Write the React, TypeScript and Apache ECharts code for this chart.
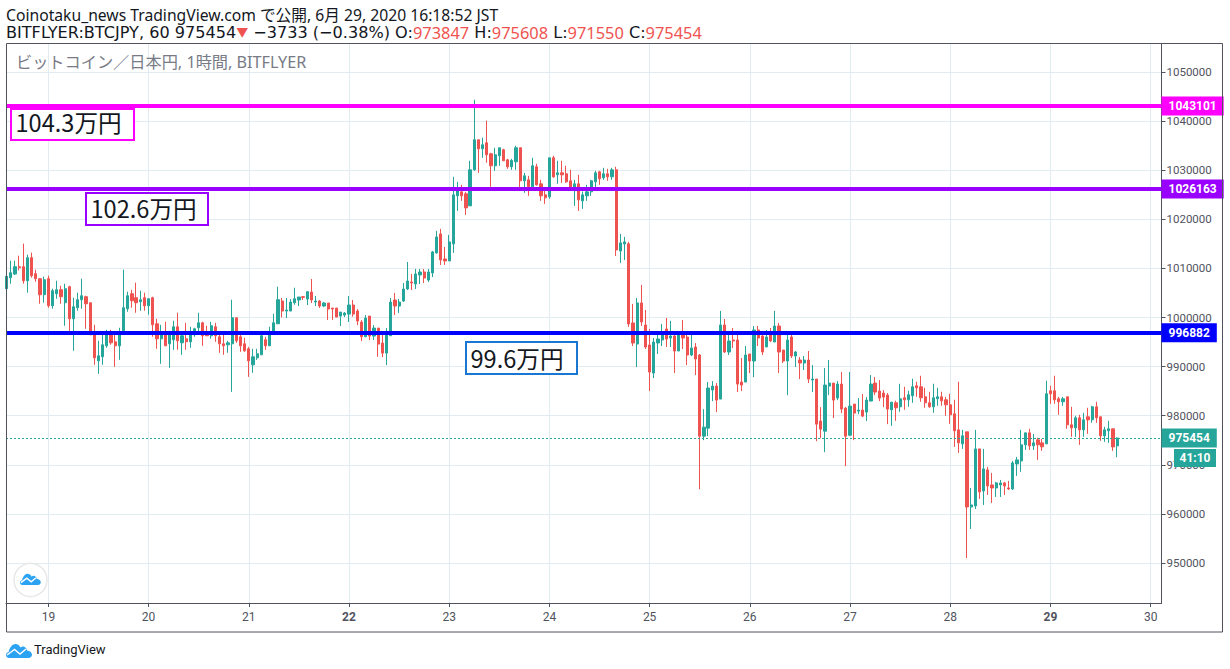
import React, { useEffect, useRef } from "react";
import * as echarts from "echarts";

// [open, close, low, high] per hour, JST, BITFLYER BTC/JPY
const day18 = [
  [1005864,1008380,1004640,1008720],[1008108,1009128,1006884,1011576],[1008856,1010352,1008652,1011576],[1010352,1010148,1009604,1012596],
  [1010352,1007496,1006884,1015044],[1007496,1012188,1005048,1012800],[1012188,1008516,1008108,1013208],[1008924,1007904,1007292,1009740],
  [1007904,1004640,1002804,1007904],[1004640,1007700,1003008,1008312],
];
const day19 = [
  [1007904,1002396,1001988,1008516],[1002396,1005456,1001784,1005864],[1004844,1005660,1003824,1007496],[1005660,1004232,1002804,1006476],
  [1003008,1005864,998316,1006884],[1006272,999744,997160,1006476],[999744,1002192,993216,1004028],[1002000,1003620,1001376,1005048],
  [1003620,1004436,1001784,1007904],[1004232,1002804,997704,1004436],[1003008,996480,996480,1003008],[996820,991788,990360,998520],
  [991176,992196,988524,995256],[992000,994440,990360,996480],[994236,996480,993828,997500],[996480,994848,994440,997500],
  [995052,994236,989952,996480],[994236,996480,991380,997908],[997296,1001988,997160,1009740],[1001784,1004436,1001172,1005252],
  [1004844,1003416,1001988,1005660],[1004028,1003008,1000968,1007088],[1003212,1003620,1001376,1005456],[1004028,1002396,1001376,1005048],
];
const day20 = [
  [1002396,1003824,1000560,1003824],[1004028,998520,996072,1004232],[998724,995664,993624,999744],[995664,996480,990564,998520],
  [996480,994236,994236,999132],[994644,996480,989748,997296],[995460,998112,993420,999336],[998112,995256,993420,1000968],
  [994848,996276,992400,997092],[995664,995052,993420,998928],[995052,997092,993828,998112],[996480,997704,996072,997908],
  [997908,998928,996888,1000968],[998928,996276,994236,999132],[996480,996276,996276,998316],[996276,998316,995664,999132],
  [998112,996276,995052,998928],[996072,994644,992808,997092],[994644,994236,992400,996480],[994440,994848,992808,995256],
  [994644,999948,984852,1003620],[999948,995256,994848,999948],[996072,994236,993012,996888],[994644,993216,993012,995868],
];
const day21 = [
  [993624,991176,987912,994032],[990360,992000,988728,993624],[991788,992604,991380,993624],[992400,996276,992400,996480],
  [995460,994236,993420,996072],[994236,996480,994236,998112],[997160,998928,996820,1000764],[998724,1003620,998724,1006272],
  [1003356,1001316,1000024,1003968],[1001316,1001520,999888,1003968],[1001316,1003152,1001316,1003764],[1003008,1003824,1002600,1006068],
  [1003560,1004172,1002336,1004172],[1004240,1004104,1003560,1004376],[1003764,1005260,1002540,1005396],[1005192,1003560,1002948,1007844],
  [1003152,1003356,1002336,1004376],[1003356,1002336,1001928,1003560],[1002336,1002948,1002132,1003152],[1002948,1001724,999480,1002948],
  [1001928,1001724,999480,1001928],[1001928,1000092,1000092,1001928],[1000296,1001112,998256,1001112],[1000500,1000908,1000092,1001112],
];
const day22 = [
  [1000704,1002540,999072,1004376],[1002540,1000704,1000160,1003560],[1001316,999276,998460,1001724],[999072,996080,995196,999480],
  [996080,999888,996012,1000500],[1000296,996216,995400,1000296],[996216,997848,995400,998460],[997848,994584,992000,997848],
  [994788,992748,991932,996420],[992748,996420,990300,997848],[996284,1003152,996284,1003968],[1003560,1002336,1000500,1005000],
  [1002336,1003152,1000908,1003764],[1003356,1005804,1003152,1007028],[1005804,1007436,1005600,1011312],[1007232,1007028,1005600,1008864],
  [1006824,1008864,1005804,1009884],[1008660,1009272,1006824,1009884],[1009272,1008048,1007028,1009884],[1007640,1009272,1007232,1009884],
  [1009068,1013352,1008252,1013556],[1013148,1016412,1013012,1017636],[1017024,1011720,1010700,1018044],[1011924,1011516,1010700,1014372],
];
const day23 = [
  [1011516,1015392,1011516,1016820],[1014984,1024980,1013148,1028652],[1024776,1025796,1021716,1027632],[1025592,1024776,1023756,1027020],
  [1025184,1022328,1020900,1025592],[1022736,1030080,1022736,1031916],[1030080,1036200,1029876,1044360],[1036200,1034364,1029468,1036200],
  [1034364,1035180,1032528,1036608],[1035588,1033140,1031508,1040076],[1033344,1030896,1026612,1033548],[1030896,1033140,1029876,1034568],
  [1032936,1034568,1030896,1034568],[1034160,1031916,1031916,1034364],[1032120,1030692,1030284,1032324],[1030692,1031984,1030080,1032324],
  [1031712,1034568,1030080,1034976],[1034568,1027836,1026340,1034568],[1027836,1028856,1025388,1029468],[1028040,1026612,1024776,1028856],
  [1026612,1030896,1026612,1032528],[1030692,1027020,1026884,1031304],[1027224,1024776,1023756,1028040],[1024980,1024368,1023144,1026204],
];
const day24 = [
  [1024572,1032528,1024164,1032528],[1032528,1028652,1028448,1032936],[1029060,1029468,1027224,1031916],[1029468,1029060,1027428,1031916],
  [1029264,1027632,1027428,1030896],[1027836,1026204,1026068,1030080],[1026204,1027224,1022736,1028040],[1027224,1023960,1021716,1029060],
  [1023756,1024980,1022124,1025660],[1024776,1025592,1023756,1027020],[1025592,1027836,1024776,1028040],[1027632,1029468,1026204,1029876],
  [1029672,1028244,1027020,1029876],[1028448,1029264,1028040,1030488],[1029264,1028652,1027836,1030284],[1028652,1030080,1028040,1030488],
  [1030080,1013760,1012536,1030692],[1013556,1015188,1011108,1017024],[1014984,1015392,1011720,1016412],[1015004,998684,998072,1015412],
  [998888,994808,994196,1002764],[994604,1002968,989912,1003988],[1002968,999092,998276,1006640],[998480,993992,993584,1001540],
];
const day25 = [
  [994400,988892,985016,997664],[988688,995012,987668,995828],[994808,995624,992564,996440],[995420,996440,994196,998684],
  [997664,995624,993992,999908],[995828,996236,993992,999296],[996236,993176,988688,996780],[993176,996848,993176,997256],
  [996848,995828,993584,999500],[996032,992360,990320,996440],[992360,993788,992156,996440],[993992,991544,988280,994808],
  [992360,975836,965024,992564],[975836,977672,975020,981344],[977468,985628,975836,986852],[985220,986036,982976,987056],
  [986036,983180,980732,986648],[983384,998480,983384,1001336],[998480,992972,992768,999704],[992972,995216,992360,996440],
  [995420,995216,993788,997868],[995420,986444,984812,996440],[986852,986240,985016,991748],[986852,992360,986852,994196],
];
const day26 = [
  [992564,991136,988688,992564],[991136,997460,987872,998276],[997460,995828,994196,998276],[996236,992972,992360,996440],
  [994000,996032,994000,997460],[997120,995216,995012,997868],[995012,998276,995012,1001336],[998276,992972,988688,998888],
  [993380,991136,990728,993380],[991136,995420,984200,996440],[996032,992156,991748,996440],[992156,992972,989912,993176],
  [991340,990728,987464,991952],[990728,991340,989300,992156],[991340,987464,986648,993176],[987260,987464,984812,990320],
  [987464,978284,974816,987464],[978896,977264,975428,981752],[976856,986240,972572,989708],[986036,986648,984200,991340],
  [986648,983180,979508,986648],[983588,986444,983180,987056],[986444,981344,980528,988892],[981548,975836,969716,981752],
];
const day27 = [
  [976040,981956,975836,988892],[982364,980528,975020,982364],[980936,981140,980324,983588],[981140,979916,979712,984404],
  [980732,983180,978896,983792],[982976,986444,982976,988280],[986648,984812,984200,987872],[985016,983588,982976,987260],
  [984608,983792,981752,985220],[984200,981344,978284,984608],[981200,982764,977936,982764],[982628,981608,978956,983036],
  [981812,983444,980792,986504],[983648,983240,981200,985892],[983240,984260,981812,985076],[984056,985892,982628,987524],
  [986096,985688,983852,986912],[985892,983648,982832,988136],[983852,982628,981608,985688],[982628,981812,981608,984872],
  [981812,983648,980588,986504],[983444,983852,982016,985688],[983852,983036,982016,984872],[983240,982220,979976,983852],
];
const day28 = [
  [982220,980180,978344,984464],[980384,976916,973652,983240],[977120,974468,972428,986912],[974264,975896,973244,977120],
  [976712,961412,951008,976712],[961412,961820,956924,965288],[961616,973244,961004,977120],[973244,964472,963044,973244],
  [964676,969164,961820,973244],[968960,965696,963860,969572],[965900,965288,962228,968348],[965288,966308,963452,966512],
  [965900,966308,963452,966920],[966308,965696,963860,966512],[965288,965084,964880,966716],[965084,970388,964880,970796],
  [970184,971000,967736,971612],[970796,974060,968552,977120],[974060,976508,973040,976508],[976508,973856,973040,977324],
  [973856,974468,973040,976304],[975080,974060,971000,975488],[974468,973652,972836,975284],[974264,984464,974264,987116],
];
const day29 = [
  [985076,984464,982424,986096],[985076,983240,982424,988136],[983444,982832,980180,983852],[982832,983444,982016,983852],
  [983852,978140,977324,983852],[978140,977528,975692,981812],[977528,979568,975692,979976],[979568,977120,974060,980180],
  [977120,979160,975692,980588],[979772,979160,976304,981608],[979160,981812,978548,982016],[981812,979568,978548,982832],
  [979772,975896,974876,979772],[975896,977120,974672,977732],[976916,977324,974468,978956],[977324,973644,972836,977324],
  [973847,975454,971550,975608],
];

const yTicks = [950000,960000,970000,980000,990000,1000000,1010000,1020000,1030000,1040000,1050000];
const dayTicks = [10,34,58,82,106,130,154,178,202,226,250,274];
const dayLabels = ["19","20","21","22","23","24","25","26","27","28","29","30"];
const boldDays = ["22","29"];
const levels = [1043101, 1026163, 996882];
const levelColors = ["#ff00ff", "#9900ff", "#0000ff"];
const lastPrice = 975454;
const countdown = "41:10";
const notes = ["104.3万円", "102.6万円", "99.6万円"];
const titleLine = "Coinotaku_news TradingView.com で公開, 6月 29, 2020 16:18:52 JST";
const watermark = "ビットコイン／日本円, 1時間, BITFLYER";

const UP = "#26a69a";
const DOWN = "#ef5350";
const FRAME = "#50535e";
const GRID = "#e1ecf2";
const SANS = "Roboto, 'Noto Sans CJK JP', sans-serif";
const HEAD = "'Noto Sans', 'Noto Sans CJK JP', sans-serif";
const WIDE = "'DejaVu Sans', 'Noto Sans CJK JP', sans-serif";

const cloudPath =
  "M3 15 C1 15 0 13.5 0 12 C0 10.5 1 9.3 2.6 9 C3.2 5.5 6 1 9.5 1 C12 1 13.5 2.8 14.5 4.6 C15.6 3.6 17 3.2 18.2 3.7 C20 4.4 20.8 6 21 7.4 C23.8 7.6 26 9.4 26 11.6 C26 13.6 24.4 15 22.5 15 Z";
echarts.graphic.registerShape("tvcloud", echarts.graphic.extendPath(cloudPath, {}));

function noteBox(text: string, color: string, x: number, y: number, w: number, h: number, dy: number) {
  return [
    { type: "rect", z: 100, silent: true, shape: { x, y, width: w, height: h }, style: { fill: "#fff", stroke: color, lineWidth: 2 } },
    { type: "text", z: 101, silent: true, x: x + 4.5, y: y + h / 2 + dy, style: { text, fill: "#131722", font: "23.6px 'Noto Sans CJK JP', sans-serif", textVerticalAlign: "middle" } },
  ];
}

function cloud(x: number, y: number, s: number) {
  return [
    { type: "tvcloud", z: 100, silent: true, x, y, scaleX: s, scaleY: s, style: { fill: "#2ca2f2" } },
    {
      type: "polyline", z: 101, silent: true,
      shape: { points: [[x + 1 * s, y + 12 * s], [x + 8.5 * s, y + 6.5 * s], [x + 14 * s, y + 11 * s], [x + 20 * s, y + 6 * s]] },
      style: { stroke: "#fff", lineWidth: 1.4, fill: "none" },
    },
  ];
}

export default function App() {
  const ref = useRef<HTMLDivElement>(null);
  useEffect(() => {
    const chart = echarts.init(ref.current!, undefined, { renderer: "svg" });
    const candles = [...day18, ...day19, ...day20, ...day21, ...day22, ...day23, ...day24, ...day25, ...day26, ...day27, ...day28, ...day29];
    const data = candles.map((c, i) => [i, c[0], c[1], c[2], c[3]]);

    const levelLines = levels.map((v, i) => ({
      yAxis: v,
      lineStyle: { color: levelColors[i], width: 4, type: "solid" },
      label: {
        show: true, position: "end", distance: 0, formatter: String(v), color: "#fff", fontWeight: "bold",
        fontFamily: SANS, fontSize: 12, backgroundColor: levelColors[i], padding: [4, 7, 3, 7],
      },
    }));
    const lastLine = {
      yAxis: lastPrice,
      lineStyle: { color: UP, width: 1, type: [2, 2] },
      label: {
        show: true, position: "end", distance: 0, formatter: String(lastPrice), color: "#fff", fontWeight: "bold",
        fontFamily: SANS, fontSize: 12, backgroundColor: UP, padding: [4, 7, 3, 7],
      },
    };

    chart.setOption({
      animation: false,
      backgroundColor: "#fff",
      grid: { left: 6, right: 68.5, top: 44, bottom: 66, containLabel: false },
      xAxis: {
        type: "value",
        min: -0.156,
        max: 276.6,
        axisLine: { onZero: false, lineStyle: { color: FRAME } },
        axisTick: { show: true, length: 4, lineStyle: { color: FRAME }, customValues: dayTicks },
        axisLabel: {
          color: FRAME, fontFamily: SANS, fontSize: 12, margin: 8, customValues: dayTicks,
          showMinLabel: true, showMaxLabel: true,
          formatter: (v: number) => {
            const d = dayLabels[dayTicks.indexOf(v)];
            return boldDays.includes(d) ? `{b|${d}}` : d;
          },
          rich: { b: { fontWeight: "bold", color: FRAME, fontFamily: SANS, fontSize: 12 } },
        },
        splitLine: { show: true, lineStyle: { color: GRID, width: 1 } },
      },
      yAxis: {
        type: "value",
        position: "right",
        min: 941854,
        max: 1055704,
        axisLine: { show: true, onZero: false, lineStyle: { color: FRAME } },
        axisTick: { show: true, length: 4, lineStyle: { color: FRAME }, customValues: yTicks },
        axisLabel: { color: FRAME, fontFamily: SANS, fontSize: 11.5, margin: 5, customValues: yTicks, formatter: (v: number) => String(v) },
        splitLine: { show: true, lineStyle: { color: GRID, width: 1 } },
      },
      series: [
        {
          type: "candlestick",
          data,
          encode: { x: 0, y: [1, 2, 3, 4] },
          barWidth: 2.7,
          clip: true,
          itemStyle: { color: UP, color0: DOWN, borderColor: UP, borderColor0: DOWN, borderWidth: 1 },
          markLine: { symbol: "none", silent: true, animation: false, precision: 0, data: [lastLine, ...levelLines] },
        },
      ],
      graphic: [
        { type: "rect", z: 90, silent: true, shape: { x: 6.5, y: 43.5, width: 1216, height: 588.5 }, style: { fill: "none", stroke: FRAME, lineWidth: 1 } },
        {
          type: "text", z: 100, silent: true, x: 6, y: 15,
          style: { text: titleLine, fill: "#131722", font: "15.7px " + HEAD, textVerticalAlign: "middle" },
        },
        {
          type: "text", z: 100, silent: true, x: 6, y: 32,
          style: {
            text: "BITFLYER:BTCJPY, 60 975454{t|▼} −3733 (−0.38%) O:{r|973847} H:{r|975608} L:{r|971550} C:{r|975454}",
            fill: "#131722", font: "16.1px " + WIDE, textVerticalAlign: "middle",
            rich: { r: { fill: DOWN, font: "16.4px " + HEAD }, t: { fill: DOWN, font: "12px " + HEAD } },
          },
        },
        { type: "text", z: 100, silent: true, x: 16, y: 62, style: { text: watermark, fill: "#787b86", font: "16.2px " + HEAD, textVerticalAlign: "middle" } },
        ...noteBox(notes[0], levelColors[0], 11, 109, 123, 31, -2.5),
        ...noteBox(notes[1], levelColors[1], 86, 193, 122, 32, -1),
        ...noteBox(notes[2], "#1976d2", 466, 342, 111, 32, 0),
        { type: "circle", z: 95, silent: true, shape: { cx: 30.5, cy: 580, r: 16.5 }, style: { fill: "#fff", stroke: "#e8e8e8", lineWidth: 1.5 } },
        ...cloud(20, 573, 0.8),
        ...cloud(6, 643, 1),
        { type: "text", z: 100, silent: true, x: 34, y: 643, style: { text: "TradingView", fill: "#131722", font: "13px " + SANS } },
        { type: "rect", z: 100, silent: true, shape: { x: 1174, y: 449, width: 42, height: 18 }, style: { fill: UP } },
        { type: "text", z: 101, silent: true, x: 1195, y: 458, style: { text: countdown, fill: "#fff", font: "bold 12px " + SANS, textAlign: "center", textVerticalAlign: "middle" } },
      ],
    });
    return () => chart.dispose();
  }, []);
  return <div ref={ref} style={{ position: "absolute", left: 0, top: 0, width: 1230, height: 669 }} />;
}
